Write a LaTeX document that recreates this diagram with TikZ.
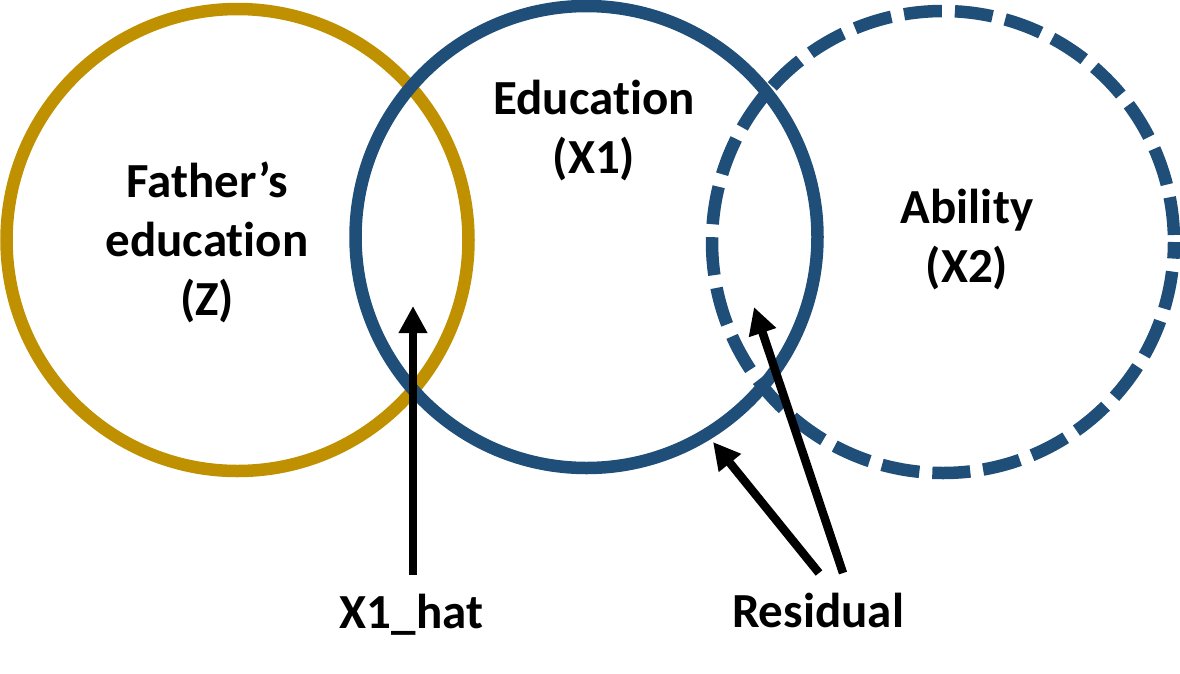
\documentclass[tikz,border=0pt]{standalone}
\usepackage{fontspec}
\setmainfont[Ligatures={NoCommon,NoDiscretionary}]{Carlito}
\usetikzlibrary{arrows.meta}
\definecolor{gold}{HTML}{BF9000}
\definecolor{navy}{HTML}{1F4E79}
\begin{document}
\begin{tikzpicture}[x=1pt,y=-1pt,
  ring/.style={circle, draw, line width=12.5pt, minimum size=462pt, inner sep=0pt, outer sep=0pt},
  lbl/.style={font=\fontsize{49}{59}\selectfont\bfseries, align=center, inner sep=0pt, anchor=base},
  pointer/.style={line width=8.5pt, -{Triangle[width=27pt,length=27pt]}}]
\useasboundingbox (0,0) rectangle (1180,673);
\node[ring, gold] (z) at (237.5,240) {};
\node[ring, navy] (x1) at (586.5,237) {};
\node[ring, navy, dash pattern=on 38pt off 13pt, dash phase=44pt] (x2) at (943,242) {};
\node[lbl] (zl) at (207,315) {Father’s\\education\\(Z)};
\node[lbl] (x1l) at (594,173) {Education\\(X1)};
\node[lbl] (x2l) at (967,282) {Ability\\(X2)};
\node[lbl] (hat) at (411.5,628) {X1\_hat};
\node[lbl] (res) at (818,627) {Residual};
\coordinate (hs) at (413,575);
\coordinate (ht) at (413,306);
\coordinate (r1s) at (819,573);
\coordinate (r1t) at (713,442);
\coordinate (r2s) at (843,573);
\coordinate (r2t) at (754,307);
\draw[pointer] (hs) -- (ht);
\draw[pointer] (r1s) -- (r1t);
\draw[pointer] (r2s) -- (r2t);
\end{tikzpicture}
\end{document}
